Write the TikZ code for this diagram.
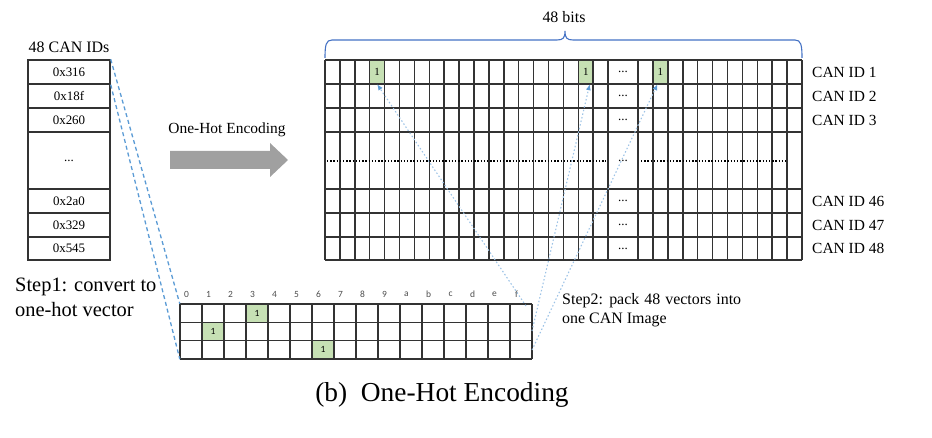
\documentclass[tikz,border=0pt]{standalone}
\usepackage{fontspec}
\setmainfont{Liberation Serif}
\newfontfamily\smsans{Carlito}
\usetikzlibrary{arrows.meta}
\definecolor{gfill}{HTML}{C6E0B4}
\definecolor{dblue}{HTML}{5B9BD5}
\definecolor{lblue}{HTML}{9DC3E6}
\definecolor{bblue}{HTML}{4472C4}
\definecolor{gridc}{HTML}{333333}
\definecolor{arrgray}{HTML}{A0A0A0}
\begin{document}
\begin{tikzpicture}[x=1bp,y=-1bp,
  gridline/.style={draw=gridc,line width=1.5bp},
  listcell/.style={draw=gridc,line width=1.4bp,minimum width=82bp,inner sep=0pt,font=\fontsize{13}{15}\selectfont},
  canlbl/.style={anchor=west,inner sep=0pt,font=\fontsize{15.5}{17}\selectfont},
  bigone/.style={minimum width=14.9bp,minimum height=24bp,inner sep=0pt,font=\fontsize{11}{12}\selectfont},
  smone/.style={minimum width=22bp,minimum height=18.3bp,inner sep=0pt,font=\smsans\fontsize{9.5}{11}\selectfont},
  hexlbl/.style={inner sep=0pt,font=\smsans\fontsize{9.5}{10}\selectfont,text=black!70},
  dotsl/.style={inner sep=0pt,font=\fontsize{13}{14}\selectfont},
  bluedash/.style={draw=dblue,line width=1.3bp,dash pattern=on 4bp off 3bp},
  bluedot/.style={draw=lblue,line width=1.1bp,dash pattern=on 1.5bp off 2.2bp,-{Latex[length=6bp,width=5bp,color=dblue]}},
  bigtxt/.style={inner sep=0pt,font=\fontsize{20.5}{24}\selectfont,anchor=base west},
  midtxt/.style={inner sep=0pt,font=\fontsize{16}{18}\selectfont,anchor=base west}
]
\useasboundingbox (0,0) rectangle (932,438);

% ---------- list of CAN IDs ----------
\node[inner sep=0pt,font=\fontsize{16}{18}\selectfont] (hdr) at (69,47) {48 CAN IDs};
\node[listcell,minimum height=24bp] (r1) at (69,72) {0x316};
\node[listcell,minimum height=24bp] (r2) at (69,96) {0x18f};
\node[listcell,minimum height=24bp] (r3) at (69,120) {0x260};
\node[listcell,minimum height=57bp] (r4) at (69,160.5) {...};
\node[listcell,minimum height=24bp] (r5) at (69,201) {0x2a0};
\node[listcell,minimum height=24bp] (r6) at (69,225) {0x329};
\node[listcell,minimum height=23bp] (r7) at (69,248.5) {0x545};

% ---------- gray arrow ----------
\node[inner sep=0pt,font=\fontsize{15.5}{17}\selectfont] (enclbl) at (227,130) {One-Hot Encoding};
\fill[arrgray] (170,151) -- (270,151) -- (270,143) -- (288,160) -- (270,177) -- (270,169) -- (170,169) -- cycle;

% ---------- big grid ----------
\fill[gfill] (369.7,60) rectangle (384.6,84);
\fill[gfill] (578.3,60) rectangle (593.2,84);
\fill[gfill] (653.0,60) rectangle (667.9,84);
\foreach \i in {0,...,19} \draw[gridline] ({325+\i*14.9},60) -- ({325+\i*14.9},260);
\foreach \j in {0,...,11} \draw[gridline] ({638.1+\j*14.9},60) -- ({638.1+\j*14.9},260);
\foreach \y in {60,84,108,132,189,213,237,260} \draw[gridline] (325,\y) -- (802,\y);
\draw[line width=1.4bp,dash pattern=on 1.4bp off 1.8bp] (327,161) -- (606,161);
\draw[line width=1.4bp,dash pattern=on 1.4bp off 1.8bp] (641,161) -- (788,161);
\foreach \y/\n in {72/d1,96/d2,120/d3,161/d4,201/d5,225/d6,248.5/d7}
  \node[dotsl] (\n) at (623,\y) {...};
\node[bigone] (b1) at (377.15,72) {1};
\node[bigone] (b2) at (585.75,72) {1};
\node[bigone] (b3) at (660.45,72) {1};

% CAN ID labels
\node[canlbl] (c1) at (812,72) {CAN ID 1};
\node[canlbl] (c2) at (812,96) {CAN ID 2};
\node[canlbl] (c3) at (812,120) {CAN ID 3};
\node[canlbl] (c46) at (812,201) {CAN ID 46};
\node[canlbl] (c47) at (812,225) {CAN ID 47};
\node[canlbl] (c48) at (812,248.5) {CAN ID 48};

% brace
\draw[bblue,line width=1.1bp] (325,58) .. controls (325,45) and (326,40) .. (332,40) -- (557,40)
   .. controls (563,40) and (565,38) .. (565,31) .. controls (565,38) and (567,40) .. (573,40)
   -- (795,40) .. controls (801,40) and (802,45) .. (802,58);
\node[inner sep=0pt,font=\fontsize{16}{18}\selectfont] (bits) at (564,17) {48 bits};

% ---------- small one-hot grid ----------
\node[minimum width=352bp,minimum height=55bp,inner sep=0pt] (sg) at (356,331.5) {};
\fill[gfill] (246,304) rectangle (268,322.3);
\fill[gfill] (202,322.3) rectangle (224,340.7);
\fill[gfill] (312,340.7) rectangle (334,359);
\foreach \i in {0,...,16} \draw[gridline] ({180+\i*22},304) -- ({180+\i*22},359);
\foreach \y in {304,322.3,340.7,359} \draw[gridline] (180,\y) -- (532,\y);
\foreach \h [count=\k from 0] in {0,1,2,3,4,5,6,7,8,9,a,b,c,d,e,f}
  \node[hexlbl] (h\k) at ({186.5+\k*22},294) {\h};
\node[smone] (s1) at (257,313.15) {1};
\node[smone] (s2) at (213,331.5) {1};
\node[smone] (s3) at (323,349.85) {1};

% blue dashed lines from list to small grid
\draw[bluedash] (r1.north east) -- (sg.north west);
\draw[bluedash] (r1.south east) -- (sg.south west);

% dotted arrows from small grid to big grid
\coordinate (o1) at (526,306);
\coordinate (o2) at (532,331);
\coordinate (o3) at (532,350);
\draw[bluedot] (o1) -- (b1.south);
\draw[bluedot] (o2) -- ([xshift=4bp]b2.south);
\draw[bluedot] (o3) -- ([xshift=-3bp]b3.south);

% texts
\node[bigtxt] (st1a) at (15,292) {Step1: convert to};
\node[bigtxt] (st1b) at (15,317) {one-hot vector};
\node[midtxt] (st2a) at (562,305) {\spaceskip=5bp plus 1bp\relax Step2: pack 48 vectors into};
\node[midtxt] (st2b) at (562,323.5) {one CAN Image};
\node[inner sep=0pt,font=\fontsize{27.5}{31}\selectfont] (cap) at (442,395) {(b)~ One-Hot Encoding};
\end{tikzpicture}
\end{document}
